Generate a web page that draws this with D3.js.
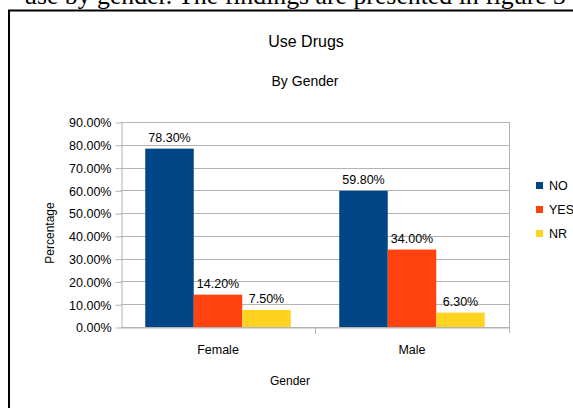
<!DOCTYPE html>
<html>
<head>
<meta charset="utf-8">
<script src="https://cdn.jsdelivr.net/npm/d3@7"></script>
<style>
  html, body { margin: 0; padding: 0; background: #fff; }
  svg { display: block; }
</style>
</head>
<body>
<svg id="chart" width="573" height="408"></svg>
<script>
// Drug use responses by gender (percent)
const categories = ["Female", "Male"];
const seriesNames = ["NO", "YES", "NR"];
const noValues = [78.3, 59.8];
const yesValues = [14.2, 34.0];
const nrValues = [7.5, 6.3];
const yTicks = [0, 10, 20, 30, 40, 50, 60, 70, 80, 90];
const seriesColors = ["#004586", "#ff420e", "#ffd320"];

const series = [noValues, yesValues, nrValues];
const svg = d3.select("#chart");
const font = "'Liberation Sans', Arial, sans-serif";

// Caption line of the surrounding text, partly cut off above the frame
svg.append("text")
  .attr("x", 24).attr("y", 4)
  .attr("font-family", "'Liberation Serif', 'Times New Roman', serif")
  .attr("font-size", 25)
  .attr("textLength", 542)
  .attr("lengthAdjust", "spacingAndGlyphs")
  .attr("fill", "#000")
  .text("use by gender. The findings are presented in figure 3");

// Frame around the chart
svg.append("path")
  .attr("d", "M9,408 V10.5 H573")
  .attr("fill", "none")
  .attr("stroke", "#000")
  .attr("stroke-width", 2);

const plot = { left: 121, right: 509, top: 122, bottom: 327 };

const x = d3.scaleBand()
  .domain(categories)
  .range([plot.left, plot.right])
  .paddingInner(0)
  .paddingOuter(0);

const xSeries = d3.scaleBand()
  .domain(seriesNames)
  .range([0, x.bandwidth()])
  .paddingInner(0)
  .paddingOuter(0.5);

const y = d3.scaleLinear()
  .domain([0, 90])
  .range([plot.bottom, plot.top]);

// Horizontal gridlines
svg.append("g")
  .selectAll("line")
  .data(yTicks)
  .join("line")
  .attr("x1", plot.left).attr("x2", plot.right)
  .attr("y1", d => Math.round(y(d)) + 0.5)
  .attr("y2", d => Math.round(y(d)) + 0.5)
  .attr("stroke", "#b3b3b3")
  .attr("stroke-width", 1);

// Right edge of the plot area
svg.append("line")
  .attr("x1", plot.right + 0.5).attr("x2", plot.right + 0.5)
  .attr("y1", plot.top).attr("y2", plot.bottom + 6)
  .attr("stroke", "#b3b3b3");

// Y axis
const yAxis = svg.append("g")
  .attr("transform", `translate(${plot.left + 0.5},0.5)`)
  .call(d3.axisLeft(y).tickValues(yTicks).tickSize(6).tickSizeOuter(0)
    .tickFormat(d => d.toFixed(2) + "%"));
yAxis.select(".domain").attr("stroke", "#b3b3b3");
yAxis.selectAll(".tick line").attr("stroke", "#b3b3b3");
yAxis.selectAll(".tick text")
  .attr("font-family", font).attr("font-size", 12.5)
  .attr("fill", "#000").attr("x", -10).attr("dy", "0.35em");

// X axis
const xAxis = svg.append("g")
  .attr("transform", `translate(0,${plot.bottom + 0.5})`)
  .call(d3.axisBottom(x).tickSize(0).tickSizeOuter(0));
xAxis.select(".domain").attr("stroke", "#b3b3b3");
xAxis.selectAll(".tick text")
  .attr("font-family", font).attr("font-size", 12.5)
  .attr("fill", "#000").attr("dy", 0).attr("y", 26);
// Category separators
svg.append("g")
  .selectAll("line")
  .data(categories.slice(1))
  .join("line")
  .attr("x1", d => Math.round(x(d)) + 0.5).attr("x2", d => Math.round(x(d)) + 0.5)
  .attr("y1", plot.bottom).attr("y2", plot.bottom + 7)
  .attr("stroke", "#b3b3b3");

// Bars
const groups = svg.append("g")
  .selectAll("g")
  .data(categories)
  .join("g")
  .attr("transform", d => `translate(${x(d)},0)`);

groups.selectAll("rect")
  .data((c, ci) => seriesNames.map((s, si) => ({ s, si, v: series[si][ci] })))
  .join("rect")
  .attr("x", d => xSeries(d.s))
  .attr("width", xSeries.bandwidth())
  .attr("y", d => y(d.v))
  .attr("height", d => y(0) - y(d.v))
  .attr("fill", d => seriesColors[d.si]);

groups.selectAll("text")
  .data((c, ci) => seriesNames.map((s, si) => ({ s, si, v: series[si][ci] })))
  .join("text")
  .attr("x", d => xSeries(d.s) + xSeries.bandwidth() / 2)
  .attr("y", d => y(d.v) - 7)
  .attr("text-anchor", "middle")
  .attr("font-family", font).attr("font-size", 12.5)
  .attr("fill", "#000")
  .text(d => d.v.toFixed(2) + "%");

// Titles
svg.append("text")
  .attr("x", 306).attr("y", 47)
  .attr("text-anchor", "middle")
  .attr("font-family", font).attr("font-size", 16)
  .attr("fill", "#000")
  .text("Use Drugs");
svg.append("text")
  .attr("x", 305).attr("y", 86)
  .attr("text-anchor", "middle")
  .attr("font-family", font).attr("font-size", 14)
  .attr("fill", "#000")
  .text("By Gender");

// Axis titles
svg.append("text")
  .attr("x", 290).attr("y", 385)
  .attr("text-anchor", "middle")
  .attr("font-family", font).attr("font-size", 12)
  .attr("fill", "#000")
  .text("Gender");
svg.append("text")
  .attr("transform", "translate(54,233) rotate(-90)")
  .attr("text-anchor", "middle")
  .attr("font-family", font).attr("font-size", 12)
  .attr("fill", "#000")
  .text("Percentage");

// Legend
const legend = svg.append("g")
  .selectAll("g")
  .data(seriesNames)
  .join("g")
  .attr("transform", (d, i) => `translate(536,${182 + i * 24})`);
legend.append("rect")
  .attr("width", 7).attr("height", 7)
  .attr("fill", (d, i) => seriesColors[i]);
legend.append("text")
  .attr("x", 13).attr("y", 4).attr("dy", "0.35em")
  .attr("font-family", font).attr("font-size", 12.5)
  .attr("fill", "#000")
  .text(d => d);
</script>
</body>
</html>
